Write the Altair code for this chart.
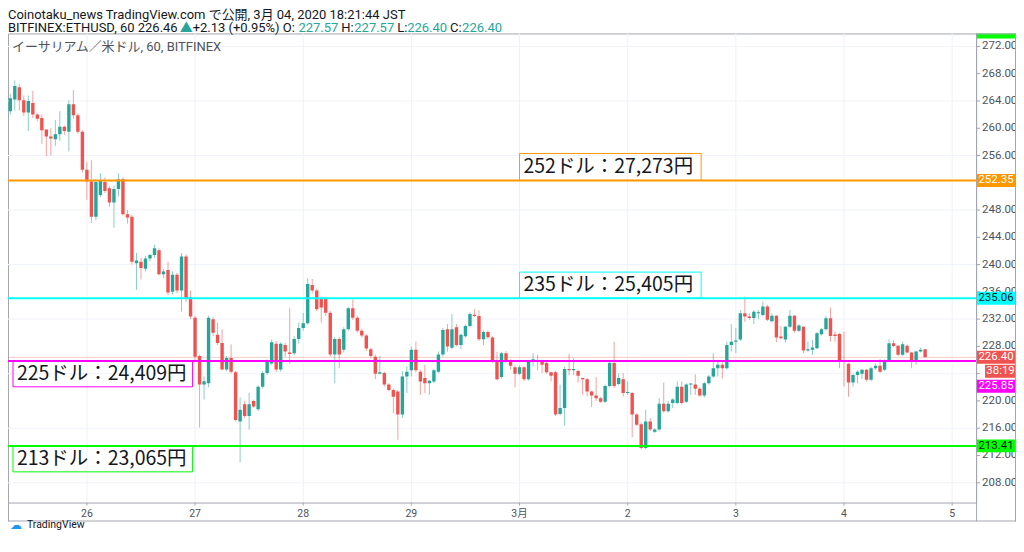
import altair as alt
import pandas as pd

TEAL = "#26a69a"
RED = "#ef5350"
LATIN = "Roboto, 'Noto Sans CJK JP', sans-serif"
CJK = "'Noto Sans CJK JP', sans-serif"
INK = "#131722"
AXIS_INK = "#4c525e"
FRAME = "#a3a6af"

# hourly candles, first one at 2020-02-25 07:00 (hours counted from Feb 25 00:00)
first_hour = 7

opens = [
    # Feb 25 07-23
    262.5, 264.2, 266.0, 264.1, 262.3, 263.7, 262.0, 261.5, 259.8, 258.8, 258.4, 259.1, 260.2, 259.5, 263.5, 261.9, 259.5,
    # Feb 26
    253.9, 252.2, 247.0, 250.2, 252.1, 251.2, 249.1, 251.1, 252.5, 247.4, 247.0, 240.2,
    240.4, 239.4, 240.9, 241.4, 242.1, 238.6, 239.2, 236.0, 238.5, 236.2, 241.2, 235.2,
    # Feb 27
    232.2, 226.6, 222.4, 222.6, 232.0, 229.7, 228.5, 224.6, 226.3, 224.2, 217.0, 219.5,
    217.8, 220.0, 218.8, 222.1, 224.1, 225.5, 228.4, 224.6, 228.2, 227.1, 227.0, 229.1,
    # Feb 28
    230.7, 231.4, 237.0, 236.2, 235.05, 234.96, 232.95, 226.8, 229.1, 227.5, 230.5, 233.6,
    232.2, 230.3, 229.6, 227.6, 226.5, 224.0, 224.1, 222.4, 221.6, 221.4, 218.0, 223.6,
    # Feb 29
    224.5, 227.5, 224.3, 223.35, 222.6, 222.85, 224.3, 226.8, 230.5, 227.8, 230.8, 228.2,
    229.5, 231.0, 232.6, 232.47, 229.05, 230.1, 229.3, 225.9, 223.5, 227.0, 225.9, 224.96,
    # Mar 1
    224.0, 224.96, 223.2, 225.9, 225.8, 225.8, 225.55, 224.2, 224.2, 218.1, 218.95, 224.7,
    224.5, 224.4, 223.3, 223.2, 221.4, 220.8, 220.4, 219.9, 222.2, 225.55, 222.5, 223.2,
    # Mar 2
    221.15, 221.15, 218.0, 216.6, 213.1, 217.0, 215.5, 215.8, 219.6, 218.5, 219.7, 219.7,
    222.1, 219.9, 222.4, 222.4, 221.8, 220.8, 222.6, 223.6, 224.8, 225.3, 224.8, 228.2,
    # Mar 3
    228.7, 229.0, 232.85, 232.4, 232.15, 232.85, 232.6, 233.85, 231.7, 232.5, 229.45, 229.0,
    230.9, 232.5, 230.3, 230.9, 227.4, 227.5, 227.74, 229.8, 230.5, 232.13, 229.73, 229.83,
    # Mar 4 00-18
    225.9, 225.44, 222.7, 223.8, 223.98, 224.56, 223.1, 224.8, 225.15, 224.56, 225.93, 228.47,
    228.1, 226.76, 228.1, 227.1, 225.8, 227.25, 227.57,
]

highs = [
    265.0, 267.0, 266.5, 264.8, 264.8, 265.5, 262.2, 262.0, 259.8, 260.0, 261.2, 262.5, 260.4, 264.1, 265.6, 262.2, 259.7,
    255.0, 255.3, 252.5, 253.4, 252.8, 251.5, 251.6, 253.4, 252.8, 248.0, 247.3, 241.7,
    241.0, 241.3, 241.6, 242.9, 242.4, 239.3, 240.4, 239.0, 238.8, 241.7, 241.5, 236.2,
    232.5, 226.8, 223.6, 232.5, 232.3, 231.5, 230.5, 226.6, 228.3, 224.4, 220.5, 220.0,
    221.2, 220.2, 222.3, 224.4, 226.1, 229.0, 228.8, 228.6, 228.5, 233.6, 229.5, 231.5,
    232.9, 238.0, 237.9, 236.5, 235.3, 235.2, 233.2, 229.4, 229.4, 230.8, 233.8, 234.9,
    232.5, 230.6, 229.8, 227.8, 226.8, 226.6, 224.3, 222.6, 221.8, 221.6, 224.4, 225.05,
    228.0, 228.7, 224.6, 225.3, 223.1, 224.7, 227.25, 230.7, 231.3, 232.76, 231.3, 229.9,
    231.2, 233.0, 233.45, 233.3, 230.3, 230.3, 229.5, 227.2, 227.2, 227.3, 226.1, 225.2,
    225.2, 225.1, 226.0, 227.0, 226.76, 226.0, 225.7, 224.3, 224.4, 222.4, 225.0, 226.9,
    226.3, 224.6, 223.35, 223.4, 221.5, 223.5, 220.6, 222.4, 225.8, 228.7, 224.0, 224.1,
    222.85, 221.3, 218.2, 216.8, 218.7, 217.5, 216.0, 220.4, 222.7, 220.0, 220.4, 222.85,
    222.85, 222.6, 222.6, 223.9, 222.0, 222.8, 223.8, 227.0, 226.0, 225.7, 228.7, 231.25,
    230.7, 233.35, 235.3, 232.85, 233.35, 233.35, 234.6, 234.1, 232.85, 232.6, 231.0, 231.0,
    233.35, 232.6, 231.25, 231.0, 228.7, 228.95, 230.1, 230.7, 232.47, 233.7, 230.2, 230.0,
    230.2, 225.6, 224.0, 224.5, 224.7, 224.7, 225.0, 225.5, 226.13, 226.1, 229.05, 228.95,
    228.2, 228.7, 228.3, 227.2, 227.4, 227.83, 227.57,
]

lows = [
    262.0, 262.6, 262.6, 261.8, 259.6, 261.5, 261.0, 257.7, 255.9, 256.0, 257.4, 258.1, 259.0, 256.6, 261.4, 259.2, 253.5,
    249.5, 246.1, 246.5, 249.9, 250.5, 248.5, 245.4, 250.0, 247.2, 246.0, 240.0, 236.3,
    237.8, 239.0, 240.5, 241.0, 238.4, 238.0, 235.5, 235.6, 235.8, 233.1, 234.5, 232.0,
    226.0, 216.1, 220.2, 222.0, 229.5, 228.2, 224.5, 224.4, 224.0, 217.0, 211.0, 217.5,
    215.8, 219.0, 218.5, 221.8, 223.8, 225.3, 224.2, 224.3, 226.5, 225.5, 226.7, 228.4,
    230.3, 231.2, 235.8, 233.2, 231.5, 232.5, 226.5, 222.6, 224.8, 227.1, 230.3, 231.9,
    230.0, 229.3, 227.3, 226.3, 223.2, 223.9, 222.1, 221.4, 218.2, 214.3, 217.5, 221.15,
    223.6, 224.2, 220.9, 221.15, 220.9, 222.6, 224.1, 226.5, 227.25, 227.6, 228.0, 227.6,
    229.3, 230.8, 232.3, 228.8, 228.2, 229.1, 225.6, 223.0, 223.3, 225.6, 224.6, 222.0,
    223.8, 222.9, 223.0, 225.05, 224.5, 224.1, 224.0, 222.85, 217.8, 217.9, 216.4, 223.8,
    223.8, 222.7, 220.9, 220.65, 219.1, 220.0, 219.7, 219.7, 222.0, 221.9, 222.3, 220.65,
    220.9, 214.7, 216.3, 212.9, 212.9, 215.6, 215.3, 215.6, 218.3, 218.3, 218.95, 219.5,
    219.5, 219.7, 220.9, 220.9, 220.6, 220.5, 222.4, 223.4, 223.6, 223.25, 224.6, 227.25,
    227.0, 228.8, 231.6, 231.9, 231.25, 232.0, 232.4, 231.7, 231.5, 228.6, 229.0, 228.6,
    230.7, 230.0, 230.1, 227.0, 227.2, 226.76, 227.6, 229.6, 230.3, 228.7, 228.7, 224.8,
    222.1, 220.6, 222.1, 222.6, 223.2, 222.85, 222.9, 224.56, 224.1, 224.4, 225.8, 227.9,
    226.6, 226.6, 226.9, 224.8, 225.3, 227.1, 226.4,
]

closes = [
    264.4, 266.2, 264.1, 262.3, 264.0, 262.0, 261.4, 259.7, 258.8, 258.5, 259.1, 260.2, 259.6, 263.5, 261.9, 259.5, 253.9,
    252.2, 247.0, 252.1, 252.3, 250.8, 249.1, 251.1, 252.5, 247.4, 246.9, 240.4, 240.6,
    239.5, 240.9, 241.4, 242.4, 238.6, 239.0, 235.9, 238.5, 236.2, 241.2, 235.1, 232.4,
    226.5, 222.4, 222.9, 232.2, 230.0, 228.5, 224.6, 226.3, 224.3, 217.2, 218.7, 217.8,
    219.5, 219.2, 222.1, 224.1, 225.8, 228.6, 224.6, 228.4, 227.25, 226.9, 229.1, 230.7,
    231.4, 237.15, 236.2, 233.45, 233.7, 232.95, 226.8, 229.1, 226.8, 230.5, 233.6, 232.2,
    230.3, 229.6, 227.7, 226.6, 224.0, 224.2, 222.4, 221.6, 220.6, 218.0, 223.6, 224.3,
    227.5, 224.5, 222.85, 222.6, 222.95, 224.5, 226.8, 230.4, 228.0, 230.5, 228.2, 229.7,
    231.0, 232.76, 232.47, 229.05, 230.1, 229.35, 225.9, 223.2, 227.0, 225.9, 225.15, 224.0,
    224.96, 223.2, 225.8, 226.1, 226.0, 225.3, 224.2, 223.7, 218.0, 218.95, 224.7, 224.5,
    224.7, 223.7, 223.2, 221.4, 220.8, 220.4, 219.9, 222.2, 225.55, 222.2, 223.35, 221.15,
    221.3, 218.0, 216.5, 213.1, 217.0, 215.8, 215.8, 219.6, 218.5, 219.6, 220.2, 222.1,
    219.7, 222.4, 222.5, 221.8, 220.8, 222.6, 223.6, 224.8, 225.3, 224.8, 228.2, 228.7,
    228.8, 232.85, 232.4, 232.15, 233.1, 232.9, 233.85, 231.9, 232.5, 229.3, 229.2, 230.9,
    232.5, 230.3, 231.05, 227.4, 227.6, 227.83, 229.93, 230.5, 232.13, 229.54, 229.54, 225.8,
    225.7, 222.7, 223.8, 224.3, 224.56, 223.1, 224.8, 225.15, 224.3, 225.93, 228.47, 228.07,
    226.76, 228.3, 227.1, 225.8, 227.25, 227.5, 226.4,
]

day_ticks = [24, 48, 72, 96, 120, 144, 168, 192, 216]
day_labels = ["26", "27", "28", "29", "3月", "2", "3", "4", "5"]
price_ticks = [208, 212, 216, 220, 224, 228, 232, 236, 240, 244, 248, 252, 256, 260, 264, 268, 272]
hidden_price_labels = [224, 252]   # fully covered by price tags in the reference
grid_prices = [208, 216, 224, 232, 240, 248, 256, 264, 272]

level_values = [252.35, 235.06, 225.85, 213.41]
level_colors = ["#ff9800", "#00ffff", "#ff00ff", "#00ff00"]
level_labels = ["252ドル：27,273円", "235ドル：25,405円", "225ドル：24,409円", "213ドル：23,065円"]
box_left = [120, 120, 7.6, 7.6]
box_right = [160.3, 160.3, 47.45, 47.45]
box_far = [256.3, 238.9, 222.07, 209.6]

tag_values = [252.35, 235.06, 226.40, 226.40, 225.85, 213.41]
tag_labels = ["252.35", "235.06", "226.40", "38:19", "225.85", "213.41"]
tag_fill = ["#ff9800", "#00ffff", "#ef5350", "#ef5350", "#ff00ff", "#00ff00"]
tag_ink = ["#ffffff", INK, "#ffffff", "#ffffff", "#ffffff", INK]

header1 = "Coinotaku_news TradingView.com で公開, 3月 04, 2020 18:21:44 JST"
header2_parts = ["BITFINEX:ETHUSD, 60 226.46", "▲", "+2.13 (+0.95%) O:", "227.57", "H:", "227.57",
                 "L:", "226.40", "C:", "226.40"]
header2_colors = [INK, TEAL, INK, TEAL, INK, TEAL, INK, TEAL, INK, TEAL]
legend_text = "イーサリアム／米ドル, 60, BITFINEX"

X_DOMAIN = [7.6, 220.2]
Y_DOMAIN = [205.1, 273.9]
W, H = 970, 470
xs = alt.Scale(domain=X_DOMAIN, nice=False, zero=False)
ys = alt.Scale(domain=Y_DOMAIN, nice=False, zero=False)


def X(field):
    return alt.X(field, type="quantitative", scale=xs, axis=None)


def Y(field):
    return alt.Y(field, type="quantitative", scale=ys, axis=None)


# ---------- candle table
hours = list(range(first_hour, first_hour + len(opens)))
df = pd.DataFrame({"h": hours, "open": opens, "high": highs, "low": lows, "close": closes})
df["dir"] = ["up" if c >= o else "down" for o, c in zip(opens, closes)]
df["b0"] = [min(o, c) for o, c in zip(opens, closes)]
df["b1"] = [max(max(o, c), min(o, c) + 0.16) for o, c in zip(opens, closes)]

color = alt.Color("dir:N", scale=alt.Scale(domain=["up", "down"], range=[TEAL, RED]), legend=None)

layers = []
one = pd.DataFrame({"a": [0]})

# grid
layers.append(alt.Chart(pd.DataFrame({"h": day_ticks})).mark_rule(color="#eef1f6", strokeWidth=1)
              .encode(x=X("h")))
layers.append(alt.Chart(pd.DataFrame({"v": grid_prices})).mark_rule(color="#f0f3fa", strokeWidth=1)
              .encode(y=Y("v")))

# hand-drawn axes (ticks and labels)
xt = pd.DataFrame({"h": day_ticks, "label": day_labels})
layers.append(alt.Chart(xt).mark_rule(color=FRAME).encode(x=X("h"), y=alt.value(470), y2=alt.value(473)))
layers.append(alt.Chart(xt).mark_text(align="center", baseline="middle", fontSize=10.5, font=LATIN,
                                      color=AXIS_INK).encode(x=X("h"), y=alt.value(481), text="label:N"))
yt = pd.DataFrame({"v": price_ticks})
layers.append(alt.Chart(yt).mark_rule(color=FRAME).encode(y=Y("v"), x=alt.value(970), x2=alt.value(974)))
shown = [p for p in price_ticks if p not in hidden_price_labels]
ytl = pd.DataFrame({"v": shown, "label": [f"{p:.2f}" for p in shown]})
layers.append(alt.Chart(ytl).mark_text(align="left", baseline="middle", fontSize=11.5, font=LATIN,
                                       color=AXIS_INK).encode(y=Y("v"), x=alt.value(976), text="label:N"))

# last price line
layers.append(alt.Chart(pd.DataFrame({"v": [closes[-1]]})).mark_rule(color=RED, opacity=0.3, strokeWidth=1)
              .encode(y=Y("v")))

# candles
layers.append(alt.Chart(df).mark_rule(strokeWidth=1, opacity=0.55, clip=True).encode(
    x=X("h"), y=Y("low"), y2="high:Q", color=color))
layers.append(alt.Chart(df).mark_bar(size=3.4, clip=True).encode(
    x=X("h"), y=Y("b0"), y2="b1:Q", color=color))

# level lines and boxes
lv = pd.DataFrame({
    "v": level_values, "c": level_colors, "label": level_labels,
    "x0": box_left, "x1": box_right, "far": box_far,
})
lv["mid"] = [(a + b) / 2 for a, b in zip(level_values, box_far)]
layers.append(alt.Chart(lv).mark_rule(strokeWidth=2).encode(
    y=Y("v"), color=alt.Color("c:N", scale=None)))
layers.append(alt.Chart(lv).mark_rect(fill="white", fillOpacity=0, strokeWidth=1).encode(
    x=X("x0"), x2="x1:Q", y=Y("v"), y2="far:Q", stroke=alt.Stroke("c:N", scale=None)))
layers.append(alt.Chart(lv).mark_text(align="left", baseline="middle", dx=4, fontSize=19.5, font=CJK,
                                      color=INK).encode(x=X("x0"), y=Y("mid"), text="label:N"))

# price tags on the right axis
tag_shift = [0, 0, 0, 14, 25.3, 0]
tag_left = [970, 970, 970, 979, 970, 970]
for val, lab, fill, ink, sh, left in zip(tag_values, tag_labels, tag_fill, tag_ink, tag_shift, tag_left):
    base = alt.Chart(pd.DataFrame({"v": [val]}))
    layers.append(base.mark_rect(color=fill, yOffset=sh - 6.5, y2Offset=sh + 6.5).encode(
        x=alt.value(left), x2=alt.value(1010), y=Y("v"), y2="v:Q"))
    layers.append(base.mark_text(color=ink, fontSize=11.5, font=LATIN, align="center", baseline="middle",
                                 dy=sh).encode(
        x=alt.value((left + 1010) / 2), y=Y("v"), text=alt.value(lab)))

# top clipped tag
layers.append(alt.Chart(one).mark_rect(color="#00ff00").encode(
    x=alt.value(970), x2=alt.value(1010), y=alt.value(0), y2=alt.value(5)))

# frame lines
layers.append(alt.Chart(one).mark_rule(color=FRAME).encode(x=alt.value(970), x2=alt.value(1010), y=alt.value(0.5)))
layers.append(alt.Chart(one).mark_rule(color=FRAME).encode(x=alt.value(970.5), y=alt.value(0), y2=alt.value(489)))
layers.append(alt.Chart(one).mark_rule(color=FRAME).encode(x=alt.value(1009.5), y=alt.value(0), y2=alt.value(489)))
layers.append(alt.Chart(one).mark_rule(color=FRAME).encode(x=alt.value(0), x2=alt.value(1010), y=alt.value(488.5)))
layers.append(alt.Chart(one).mark_rule(color=FRAME).encode(x=alt.value(0.5), y=alt.value(470), y2=alt.value(489)))

# header texts
layers.append(alt.Chart(one).mark_text(align="left", baseline="middle", fontSize=13, font=LATIN, color=INK)
              .encode(x=alt.value(0), y=alt.value(-18), text=alt.value(header1)))
header2_x = [0, 172, 185, 291, 334, 347, 390, 400, 443, 455]
for part, col, px in zip(header2_parts, header2_colors, header2_x):
    layers.append(alt.Chart(one).mark_text(align="left", baseline="middle", fontSize=13, font=LATIN, color=col)
                  .encode(x=alt.value(px), y=alt.value(-5.5), text=alt.value(part)))
layers.append(alt.Chart(one).mark_text(align="left", baseline="middle", fontSize=13, font=LATIN, color="#50535e")
              .encode(x=alt.value(4), y=alt.value(14), text=alt.value(legend_text)))

# logo
layers.append(alt.Chart(one).mark_text(align="center", baseline="middle", fontSize=12, font="DejaVu Sans",
                                       color="#2196f3")
              .encode(x=alt.value(8), y=alt.value(493), text=alt.value("☁")))
layers.append(alt.Chart(one).mark_text(align="left", baseline="middle", fontSize=10.5, font=LATIN, color=INK)
              .encode(x=alt.value(19), y=alt.value(493), text=alt.value("TradingView")))

chart = alt.layer(*layers).properties(
    width=W, height=H,
    padding={"top": 25, "left": 0, "right": 40, "bottom": 28},
    autosize=alt.AutoSizeParams(type="none"),
    background="white",
).configure_view(stroke=FRAME, strokeWidth=1)

chart.save("out.html", embed_options={"renderer": "svg", "actions": False})
